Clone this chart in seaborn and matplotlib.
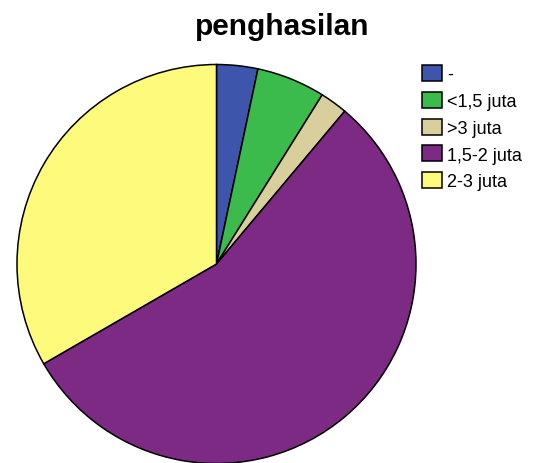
import matplotlib
matplotlib.use("Agg")
import matplotlib.pyplot as plt
import seaborn as sns

# Income groups and respondent counts
categories = ["-", "<1,5 juta", ">3 juta", "1,5-2 juta", "2-3 juta"]
counts = [3, 5, 2, 50, 30]
colors = ["#3d55aa", "#3bbb4b", "#d8cf9c", "#7d2a84", "#fdfa7c"]

sns.set_theme(style="white")
plt.rcParams["font.family"] = ["Liberation Sans", "DejaVu Sans"]

W, H = 542, 464
fig = plt.figure(figsize=(W / 100, H / 100), dpi=100)
ax = fig.add_axes([17 / W, -0.5 / H, 399 / W, 399 / H])

wedges, _ = ax.pie(
    counts,
    colors=colors,
    startangle=90,
    counterclock=False,
    wedgeprops=dict(edgecolor="black", linewidth=1.1),
)
ax.set_aspect("equal")
ax.set_xlim(-1, 1)
ax.set_ylim(-1, 1)

fig.text(282.5 / W, 1 - 27 / H, "penghasilan", ha="center", va="center",
         fontsize=21.5, fontweight="bold", color="black")

leg = fig.legend(
    wedges, categories,
    loc="upper left",
    bbox_to_anchor=(422 / W, 1 - 66 / H),
    frameon=False,
    fontsize=13,
    handlelength=1.1,
    handleheight=1.0,
    handletextpad=0.3,
    labelspacing=0.47,
    borderaxespad=0,
    borderpad=0,
)
for t in leg.get_texts():
    t.set_color("black")

fig.savefig("out.png", dpi=100)
